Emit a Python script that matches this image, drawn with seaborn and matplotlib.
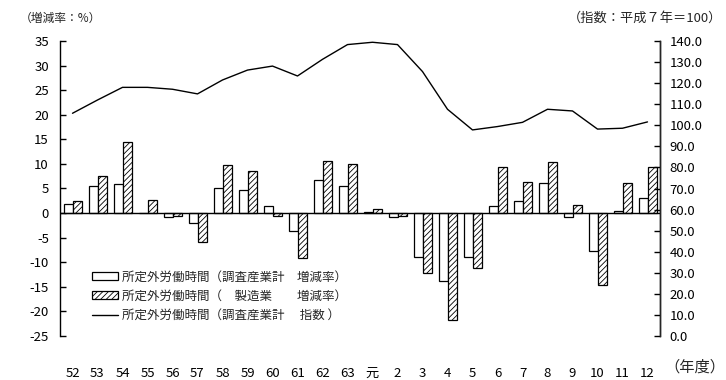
import numpy as np
import pandas as pd
import matplotlib
matplotlib.use("Agg")
import matplotlib.pyplot as plt
from matplotlib.patches import Patch
from matplotlib.lines import Line2D
import seaborn as sns

years = ["52", "53", "54", "55", "56", "57", "58", "59", "60", "61", "62", "63", "元",
         "2", "3", "4", "5", "6", "7", "8", "9", "10", "11", "12"]
rate_all = [1.8, 5.5, 5.9, 0.0, -0.7, -2.1, 5.0, 4.6, 1.4, -3.7, 6.8, 5.6, 0.3,
            -0.7, -8.9, -13.8, -8.9, 1.4, 2.4, 6.1, -0.8, -7.8, 0.4, 3.0]
rate_mfg = [2.4, 7.5, 14.4, 2.6, -0.5, -5.9, 9.7, 8.5, -0.6, -9.2, 10.5, 9.9, 0.75,
            -0.5, -12.2, -21.8, -11.2, 9.3, 6.4, 10.3, 1.6, -14.6, 6.1, 9.3]
index_all = [105.7, 112.0, 118.0, 118.0, 117.1, 114.9, 121.5, 126.2, 128.1, 123.4, 131.3, 138.3, 139.4,
             138.3, 125.5, 107.6, 97.8, 99.4, 101.4, 107.6, 106.8, 98.2, 98.6, 101.6]

left_ticks = [35, 30, 25, 20, 15, 10, 5, 0, -5, -10, -15, -20, -25]
right_ticks = [140, 130, 120, 110, 100, 90, 80, 70, 60, 50, 40, 30, 20, 10, 0]

lab_all = "所定外労働時間（調査産業計　増減率）"
lab_mfg = "所定外労働時間（　製造業　　増減率）"
lab_idx = "所定外労働時間（調査産業計　 指数 ）"

sns.set_style("white")
plt.rcParams['font.family'] = ['Noto Sans CJK JP', 'DejaVu Sans']
plt.rcParams['hatch.linewidth'] = 0.6
plt.rcParams['hatch.color'] = 'black'

df = pd.DataFrame({
    "year": years * 2,
    "rate": rate_all + rate_mfg,
    "series": ["all"] * len(years) + ["mfg"] * len(years),
})

fig = plt.figure(figsize=(7.26, 3.80), dpi=100)
ax = fig.add_axes([60 / 726, 1 - 336 / 380, 600 / 726, 295 / 380])

sns.barplot(data=df, x="year", y="rate", hue="series", order=years,
            hue_order=["all", "mfg"], palette=["white", "white"],
            edgecolor="black", linewidth=0.9, width=0.72, saturation=1,
            legend=False, ax=ax, errorbar=None)
for bar in ax.containers[1]:
    bar.set_hatch("//////")

ax.axhline(0, color="black", lw=1, zorder=5)
ax.set_ylim(-25, 35)
ax.set_yticks(left_ticks)
ax.set_yticklabels([str(t) for t in left_ticks])
ax.set_xlim(-0.5, len(years) - 0.5)
ax.set_xlabel("")
ax.set_ylabel("")
for s in ["top", "bottom"]:
    ax.spines[s].set_visible(False)
for s in ["left", "right"]:
    ax.spines[s].set_color("black")
    ax.spines[s].set_linewidth(1)
ax.tick_params(axis="y", direction="in", length=4, width=1, pad=8, labelsize=9.5, colors="black")
ax.tick_params(axis="x", length=0, pad=22, labelsize=9.5, colors="black")

ax2 = ax.twinx()
idx_df = pd.DataFrame({"pos": np.arange(len(years)), "index": index_all})
sns.lineplot(data=idx_df, x="pos", y="index", color="black", lw=1, ax=ax2)
ax2.set_ylim(0, 140)
ax2.set_yticks(right_ticks)
ax2.set_yticklabels([f"{t:.1f}" for t in right_ticks])
ax2.set_xlim(-0.5, len(years) - 0.5)
ax2.set_xlabel("")
ax2.set_ylabel("")
for s in ["top", "bottom", "left"]:
    ax2.spines[s].set_visible(False)
ax2.spines["right"].set_linewidth(1)
ax2.tick_params(axis="y", direction="in", length=4, width=1, pad=7, labelsize=9.5, colors="black")
ax.set_xticks(range(len(years)))
ax.set_xticklabels(years)

handles = [
    Patch(facecolor="white", edgecolor="black", linewidth=0.9, label=lab_all),
    Patch(facecolor="white", edgecolor="black", linewidth=0.9, hatch="//////", label=lab_mfg),
    Line2D([0], [0], color="black", lw=1, label=lab_idx),
]
fig.legend(handles=handles, loc="center left", bbox_to_anchor=(92 / 726, 1 - 296 / 380),
           frameon=False, fontsize=9, handlelength=2.1, handleheight=0.6,
           handletextpad=0.3, labelspacing=0.5, borderpad=0, borderaxespad=0)

fig.text(20 / 726, 1 - 18 / 380, "（増減率：%）", fontsize=8.5, va="center", ha="left")
fig.text(722 / 726, 1 - 18 / 380, "（指数：平成７年＝100）", fontsize=9.5, va="center", ha="right")
fig.text(664 / 726, 1 - 367 / 380, "（年度）", fontsize=11, va="center", ha="left")

fig.savefig("out.png", dpi=100)
